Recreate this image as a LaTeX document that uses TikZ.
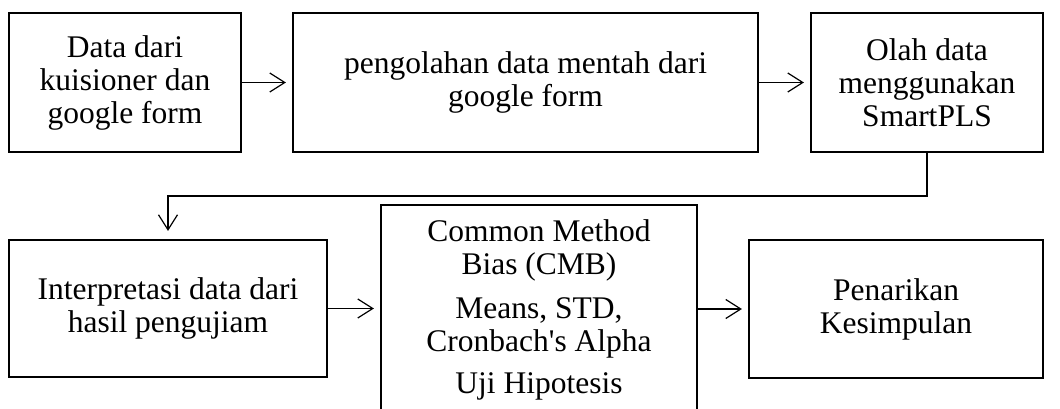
\documentclass[tikz,border=0pt]{standalone}
\usepackage{fontspec}
\setmainfont{Liberation Serif}
\usetikzlibrary{arrows.meta}
\begin{document}
\begin{tikzpicture}[x=1pt,y=-1pt,
  stepbox/.style={draw=black, line width=2.2pt, inner sep=0pt, align=center,
    font=\fontsize{31.5}{33}\selectfont},
  flow/.style={draw=black, line width=1.2pt,
    -{Straight Barb[length=15pt,width=19pt,line width=1.2pt]}, shorten >=6pt}
]
\useasboundingbox (0,0) rectangle (1060,409);
\clip (0,0) rectangle (1060,409);

% top row
\node[stepbox, minimum width=232pt, minimum height=139pt] (data) at (125,82.5)
  {Data dari\\kuisioner dan\\google form};
\node[stepbox, minimum width=465pt, minimum height=139pt] (olah) at (525.5,82.5)
  {pengolahan data mentah dari\\google form};
\node[stepbox, minimum width=232pt, minimum height=139pt] (pls) at (927,82.5)
  {Olah data\\menggunakan\\SmartPLS};

% bottom row
\node[stepbox, minimum width=318pt, minimum height=137pt] (interp) at (168,308.5)
  {Interpretasi data dari\\hasil pengujiam};
\node[stepbox, minimum width=316pt, minimum height=210pt] (uji) at (539,310)
  {Common Method\\Bias (CMB)\\[11pt]Means, STD,\\Cronbach\textquotesingle s Alpha\\[9pt]Uji Hipotesis};
\node[stepbox, minimum width=294pt, minimum height=138pt] (simpul) at (896,309)
  {Penarikan\\Kesimpulan};

% connectors
\draw[flow] (data.east) -- (olah.west);
\draw[flow] (olah.east) -- (pls.west);
\coordinate (turnR) at (pls.south |- 0,196);
\coordinate (turnL) at (interp.north |- 0,196);
\draw[flow, shorten >=8pt] (pls.south) -- (turnR) -- (turnL) -- (interp.north);
\draw[flow] (interp.east) -- (interp.east -| uji.west);
\draw[flow] (uji.east |- simpul.west) -- (simpul.west);
\end{tikzpicture}
\end{document}
